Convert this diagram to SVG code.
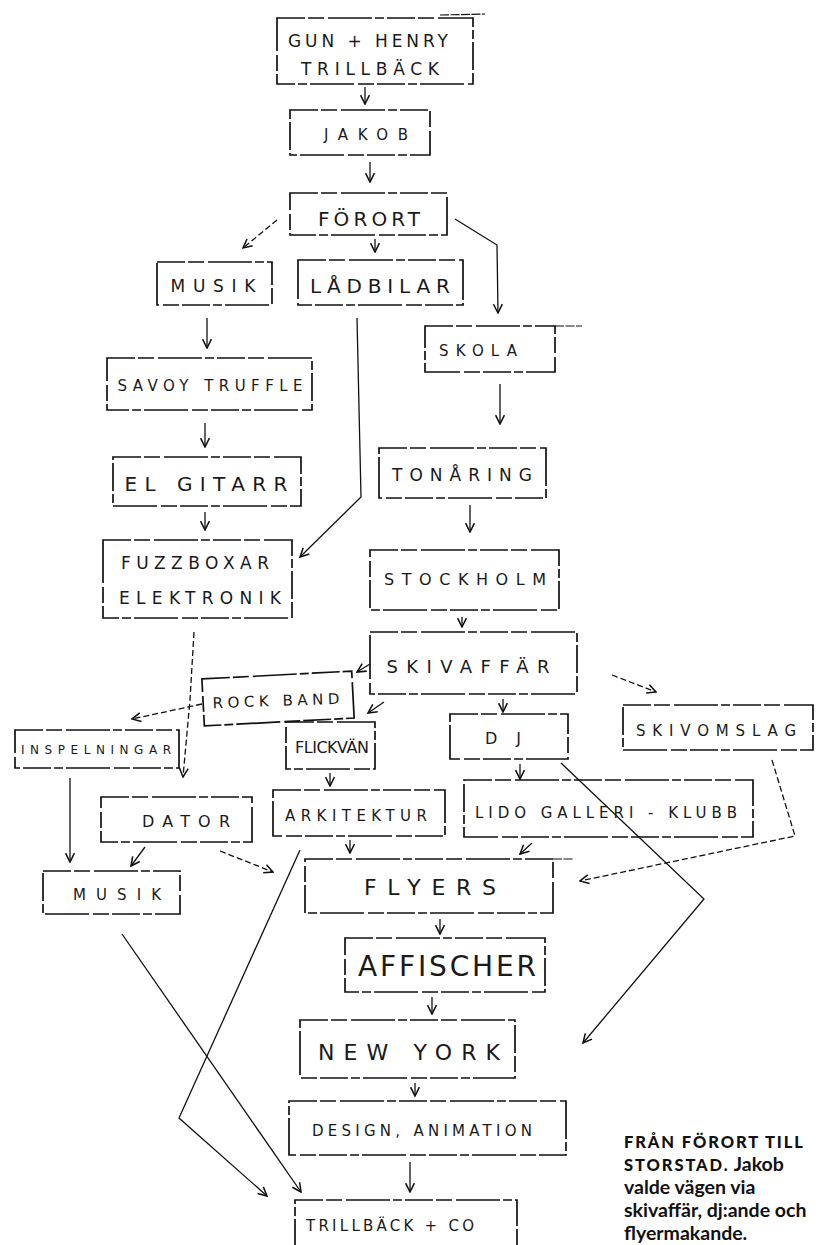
<svg xmlns="http://www.w3.org/2000/svg" width="830" height="1245" viewBox="0 0 830 1245">
<defs>
<marker id="ah" viewBox="0 0 10 10" refX="9" refY="5" markerWidth="11" markerHeight="11" markerUnits="userSpaceOnUse" orient="auto">
<path d="M1,1 L9,5 L1,9" fill="none" stroke="#111" stroke-width="1.4"/>
</marker>
<style>
.b{fill:none;stroke:#111;stroke-width:1.7;stroke-dasharray:28 3 16 4 44 3 9 3}
.t{font-family:"DejaVu Sans",sans-serif;fill:#1a1a1a;text-anchor:middle;font-weight:normal}
.c{fill:none;stroke:#111;stroke-width:1.3;marker-end:url(#ah)}
.d{fill:none;stroke:#111;stroke-width:1.3;stroke-dasharray:6 3;marker-end:url(#ah)}
.s{fill:none;stroke:#111;stroke-width:1.2;stroke-dasharray:9 1.5}
.cap{font-family:Lato,"Noto Sans",sans-serif;font-size:19.5px;fill:#111;font-weight:bold}
.caph{font-weight:900;letter-spacing:1.9px;font-size:16.5px}
</style>
</defs>
<rect width="830" height="1245" fill="#fff"/>

<g id="connectors">
<path class="c" d="M365,87 L365,104"/>
<path class="c" d="M370,162 L370,182"/>
<path class="d" d="M277,220 L243,248"/>
<path class="c" d="M375,239 L375,252"/>
<path class="c" d="M455,219 L497,245 L498,313"/>
<path class="c" d="M207,318 L207,348"/>
<path class="c" d="M205,423 L205,447"/>
<path class="c" d="M205,512 L205,530"/>
<path class="c" d="M357,318 L361,497 L300,557"/>
<path class="c" d="M500,384 L500,424"/>
<path class="c" d="M470,505 L470,532"/>
<path class="c" d="M462,617 L462,627"/>
<path class="c" d="M370,664 L357,672"/>
<path class="c" d="M384,702 L368,713"/>
<path class="c" d="M503,699 L503,712"/>
<path class="d" d="M612,675 L656,692"/>
<path class="d" d="M194,632 L190,700 L183,777"/>
<path class="d" d="M202,704 L132,719"/>
<path class="c" d="M70,778 L70,862"/>
<path class="c" d="M145,847 L131,866"/>
<path class="d" d="M220,851 L273,872"/>
<path class="c" d="M330,773 L330,786"/>
<path class="c" d="M520,764 L520,779"/>
<path class="c" d="M350,840 L350,853"/>
<path class="c" d="M532,843 L520,854"/>
<path class="d" d="M772,760 L795,836 L580,881"/>
<path class="c" d="M561,763 L704,899 L583,1043"/>
<path class="c" d="M440,919 L440,934"/>
<path class="c" d="M432,997 L432,1014"/>
<path class="c" d="M415,1083 L415,1096"/>
<path class="c" d="M410,1162 L410,1192"/>
<path class="c" d="M300,850 L179,1118 L267,1196"/>
<path class="c" d="M122,934 L301,1192"/>
</g>

<g id="n-gun-henry"><rect class="b" x="277" y="18" width="196" height="66"/><path class="s" d="M440,15 L485,14"/>
<text class="t" x="368" y="47" font-size="17" textLength="160">GUN + HENRY</text>
<text class="t" x="370" y="75" font-size="17" textLength="138">TRILLBÄCK</text></g>
<g id="n-jakob"><rect class="b" x="290" y="110" width="140" height="45"/>
<text class="t" x="366" y="140" font-size="15" textLength="84">JAKOB</text></g>
<g id="n-forort"><rect class="b" x="290" y="193" width="157" height="42"/>
<text class="t" x="369" y="226" font-size="20" textLength="102">FÖRORT</text></g>
<g id="n-musik1"><rect class="b" x="157" y="262" width="115" height="43"/>
<text class="t" x="213" y="292" font-size="17" textLength="85">MUSIK</text></g>
<g id="n-ladbilar"><rect class="b" x="298" y="260" width="165" height="45"/>
<text class="t" x="380" y="293" font-size="20" textLength="140">LÅDBILAR</text></g>
<g id="n-skola"><rect class="b" x="425" y="326" width="130" height="46"/><path class="s" d="M555,326 L582,326"/>
<text class="t" x="478" y="356" font-size="15" textLength="78">SKOLA</text></g>
<g id="n-savoy"><rect class="b" x="107" y="358" width="205" height="52"/>
<text class="t" x="210" y="391" font-size="15" textLength="185">SAVOY TRUFFLE</text></g>
<g id="n-elgitarr"><rect class="b" x="113" y="457" width="188" height="49"/>
<text class="t" x="206" y="491" font-size="20" textLength="163">EL GITARR</text></g>
<g id="n-tonaring"><rect class="b" x="379" y="448" width="167" height="50"/>
<text class="t" x="462" y="481" font-size="17" textLength="140">TONÅRING</text></g>
<g id="n-fuzz"><rect class="b" x="103" y="540" width="189" height="78"/>
<text class="t" x="195" y="569" font-size="17" textLength="148">FUZZBOXAR</text>
<text class="t" x="200" y="604" font-size="17" textLength="162">ELEKTRONIK</text></g>
<g id="n-stockholm"><rect class="b" x="370" y="550" width="189" height="60"/>
<text class="t" x="465" y="585" font-size="16" textLength="162">STOCKHOLM</text></g>
<g id="n-skivaffar"><rect class="b" x="370" y="632" width="207" height="62"/>
<text class="t" x="468" y="673" font-size="18" textLength="163">SKIVAFFÄR</text></g>
<g id="n-rockband"><rect class="b" x="203" y="675" width="150" height="47" transform="rotate(-3 278 698)"/>
<text class="t" x="276" y="706" font-size="15" textLength="127" transform="rotate(-2 276 700)">ROCK BAND</text></g>
<g id="n-inspelningar"><rect class="b" x="15" y="730" width="164" height="38"/>
<text class="t" x="96" y="754" font-size="12" textLength="150">INSPELNINGAR</text></g>
<g id="n-flickvan"><rect class="b" x="286" y="722" width="89" height="47"/>
<text class="t" x="332" y="753" font-size="16" textLength="74">FLICKVÄN</text></g>
<g id="n-dj"><rect class="b" x="450" y="714" width="118" height="45"/>
<text class="t" x="503" y="744" font-size="16" textLength="36">DJ</text></g>
<g id="n-skivomslag"><rect class="b" x="623" y="705" width="190" height="45"/>
<text class="t" x="716" y="736" font-size="15" textLength="160">SKIVOMSLAG</text></g>
<g id="n-dator"><rect class="b" x="101" y="797" width="151" height="45"/>
<text class="t" x="186" y="827" font-size="16" textLength="88">DATOR</text></g>
<g id="n-arkitektur"><rect class="b" x="273" y="790" width="172" height="46"/>
<text class="t" x="356" y="821" font-size="15" textLength="142">ARKITEKTUR</text></g>
<g id="n-lido"><rect class="b" x="464" y="780" width="289" height="57"/>
<text class="t" x="606" y="818" font-size="15" textLength="262">LIDO GALLERI - KLUBB</text></g>
<g id="n-musik2"><rect class="b" x="43" y="871" width="137" height="43"/>
<text class="t" x="117" y="900" font-size="15" textLength="88">MUSIK</text></g>
<g id="n-flyers"><rect class="b" x="305" y="859" width="248" height="54"/><path class="s" d="M553,859 L574,859"/>
<text class="t" x="430" y="895" font-size="22" textLength="132">FLYERS</text></g>
<g id="n-affischer"><rect class="b" x="345" y="938" width="200" height="54"/>
<text class="t" x="447" y="976" font-size="28" textLength="178">AFFISCHER</text></g>
<g id="n-newyork"><rect class="b" x="300" y="1020" width="215" height="58"/>
<text class="t" x="409" y="1060" font-size="22" textLength="182">NEW  YORK</text></g>
<g id="n-design"><rect class="b" x="289" y="1101" width="277" height="54"/>
<text class="t" x="422" y="1136" font-size="15" textLength="220">DESIGN, ANIMATION</text></g>
<g id="n-trillback"><rect class="b" x="295" y="1200" width="222" height="55"/>
<text class="t" x="390" y="1231" font-size="15" textLength="168">TRILLBÄCK + CO</text></g>

<g id="caption">
<text class="cap" x="624" y="1148"><tspan class="caph">FRÅN FÖRORT TILL</tspan></text>
<text class="cap" x="624" y="1171"><tspan class="caph">STORSTAD.</tspan> Jakob</text>
<text class="cap" x="624" y="1194">valde vägen via</text>
<text class="cap" x="624" y="1217">skivaffär, dj:ande och</text>
<text class="cap" x="624" y="1240">flyermakande.</text>
</g>
</svg>
